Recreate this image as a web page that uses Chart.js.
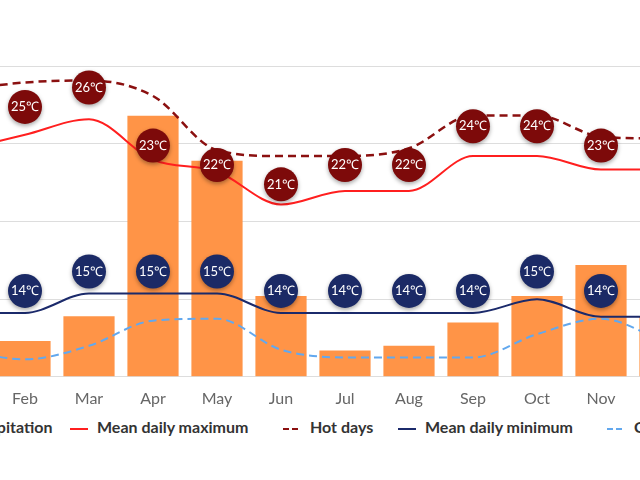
<!DOCTYPE html>
<html>
<head>
<meta charset="utf-8">
<script src="https://cdn.jsdelivr.net/npm/chart.js@4"></script>
<style>
  body { margin: 0; width: 640px; height: 480px; overflow: hidden; background: #fff; font-family: Lato, "Open Sans", sans-serif; position: relative; }
  #wrap { position: absolute; left: -71px; top: 0; width: 768px; height: 412px; }
  #legend { position: absolute; top: 416px; left: 0; width: 700px; height: 24px; font: bold 16px Lato, sans-serif; color: #333; white-space: nowrap; }
  .item { position: absolute; top: 0; line-height: 22px; }
  .item svg { vertical-align: middle; margin-right: 9px; }
</style>
</head>
<body>
<div id="wrap"><canvas id="chart"></canvas></div>
<div id="legend">
  <span class="item" style="left:-66px"><svg width="18" height="12"><rect width="18" height="12" fill="#ff9447"/></svg>Precipitation</span>
  <span class="item" style="left:70px"><svg width="18" height="4"><line x1="0" y1="2" x2="18" y2="2" stroke="#ff1f1f" stroke-width="2"/></svg>Mean daily maximum</span>
  <span class="item" style="left:283px"><svg width="18" height="4"><line x1="0" y1="2" x2="18" y2="2" stroke="#8b1010" stroke-width="2" stroke-dasharray="6,3"/></svg>Hot days</span>
  <span class="item" style="left:398px"><svg width="18" height="4"><line x1="0" y1="2" x2="18" y2="2" stroke="#1b2a6b" stroke-width="2"/></svg>Mean daily minimum</span>
  <span class="item" style="left:607px"><svg width="18" height="4"><line x1="0" y1="2" x2="18" y2="2" stroke="#62a8ee" stroke-width="2" stroke-dasharray="6,3"/></svg>Cold nights</span>
</div>
<script>
const months = ["Jan", "Feb", "Mar", "Apr", "May", "Jun", "Jul", "Aug", "Sep", "Oct", "Nov", "Dec"];
const precipitation = [30, 23, 39, 168, 139, 52, 17, 20, 35, 52, 72, 39];
const meanMax = [22.4, 23.2, 24.0, 21.9, 21.3, 19.6, 20.3, 20.3, 22.1, 22.1, 21.4, 21.4];
const hotDays = [25.5, 25.9, 26.0, 25.2, 22.4, 22.1, 22.1, 22.5, 24.2, 24.2, 23.1, 23.0];
const meanMin = [14, 14, 15, 15, 15, 14, 14, 14, 14, 14.7, 13.8, 13.8];
const coldNights = [12.1, 11.6, 12.3, 13.6, 13.7, 12.1, 11.7, 11.7, 11.7, 12.9, 13.7, 12.5];
const hotLabels = [25, 25, 26, 23, 22, 21, 22, 22, 24, 24, 23, 23];
const minLabels = [14, 14, 15, 15, 15, 14, 14, 14, 14, 15, 14, 14];

const bubbles = {
  id: "bubbles",
  afterDatasetsDraw(chart) {
    const ctx = chart.ctx;
    const x = chart.scales.x, t = chart.scales.temp;
    const groups = [
      { vals: hotLabels, color: "#7d0a0a", off: 7 },
      { vals: minLabels, color: "#1b2a66", off: -22 }
    ];
    groups.forEach(g => {
      g.vals.forEach((v, i) => {
        const px = x.getPixelForValue(i);
        const py = t.getPixelForValue(v) + g.off;
        ctx.save();
        ctx.shadowColor = "rgba(0,0,0,0.35)";
        ctx.shadowBlur = 4;
        ctx.shadowOffsetY = 2;
        ctx.beginPath();
        ctx.arc(px, py, 17, 0, Math.PI * 2);
        ctx.fillStyle = g.color;
        ctx.fill();
        ctx.restore();
        ctx.save();
        ctx.fillStyle = "#fff";
        ctx.font = "13px Lato, sans-serif";
        ctx.textAlign = "center";
        ctx.textBaseline = "middle";
        ctx.fillText(v + "\u2103", px, py);
        ctx.restore();
      });
    });
  }
};

new Chart(document.getElementById("chart"), {
  data: {
    labels: months,
    datasets: [
      { type: "line", label: "Mean daily maximum", data: meanMax, yAxisID: "temp", borderColor: "#ff1f1f", borderWidth: 2, pointRadius: 0, cubicInterpolationMode: "monotone", order: 1 },
      { type: "line", label: "Hot days", data: hotDays, yAxisID: "temp", borderColor: "#8b1010", borderWidth: 2.5, borderDash: [8, 5], pointRadius: 0, cubicInterpolationMode: "monotone", order: 1 },
      { type: "line", label: "Mean daily minimum", data: meanMin, yAxisID: "temp", borderColor: "#1b2a6b", borderWidth: 2, pointRadius: 0, cubicInterpolationMode: "monotone", order: 1 },
      { type: "line", label: "Cold nights", data: coldNights, yAxisID: "temp", borderColor: "#62a8ee", borderWidth: 2, borderDash: [8, 5], pointRadius: 0, cubicInterpolationMode: "monotone", order: 1 },
      { type: "bar", label: "Precipitation", data: precipitation, yAxisID: "rain", backgroundColor: "#ff9447", barPercentage: 0.8, categoryPercentage: 1, order: 2 }
    ]
  },
  options: {
    responsive: true,
    maintainAspectRatio: false,
    animation: false,
    layout: { padding: { top: 66, left: 0, right: 0, bottom: 0 } },
    plugins: { legend: { display: false }, tooltip: { enabled: false } },
    scales: {
      x: {
        grid: { display: false },
        border: { display: false },
        ticks: { color: "#666", font: { family: "Lato", size: 16 }, padding: 4 }
      },
      rain: {
        position: "right",
        min: 0,
        max: 200,
        ticks: { display: false, stepSize: 50 },
        grid: { color: "#dddddd", drawTicks: false },
        border: { display: false }
      },
      temp: {
        display: false,
        min: 10.7,
        max: 26.75
      }
    }
  },
  plugins: [bubbles]
});
</script>
</body>
</html>
